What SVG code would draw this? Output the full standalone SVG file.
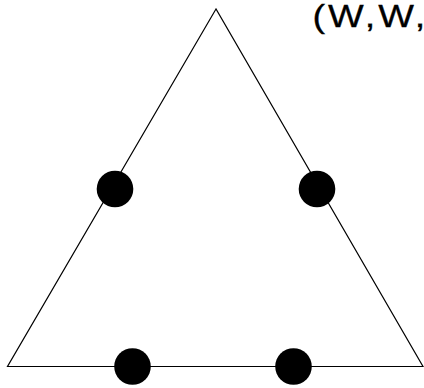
<svg xmlns="http://www.w3.org/2000/svg" width="424" height="388" viewBox="0 0 424 388">
<style>
.edge{fill:none;stroke:#000;stroke-width:1.2}
.dot{fill:#000}
.lbl{font-family:"Liberation Sans",Arial,sans-serif;font-size:31px;fill:#000;stroke:#000;stroke-width:0.3}
</style>
<rect width="424" height="388" fill="#fff"/>
<g id="connectors">
<polygon class="edge" points="216,9 7.5,366.5 423,366.5"/>
</g>
<g id="dot-left"><circle class="dot" cx="115" cy="189" r="18.3"/></g>
<g id="dot-right"><circle class="dot" cx="317" cy="189" r="18.3"/></g>
<g id="dot-bottom-left"><circle class="dot" cx="132.5" cy="366.5" r="18.3"/></g>
<g id="dot-bottom-right"><circle class="dot" cx="293.5" cy="366.5" r="18.3"/></g>
<g id="label"><text class="lbl" transform="translate(312.5,27) scale(1.22,1)" letter-spacing="2.46">(W,W,</text></g>
</svg>
